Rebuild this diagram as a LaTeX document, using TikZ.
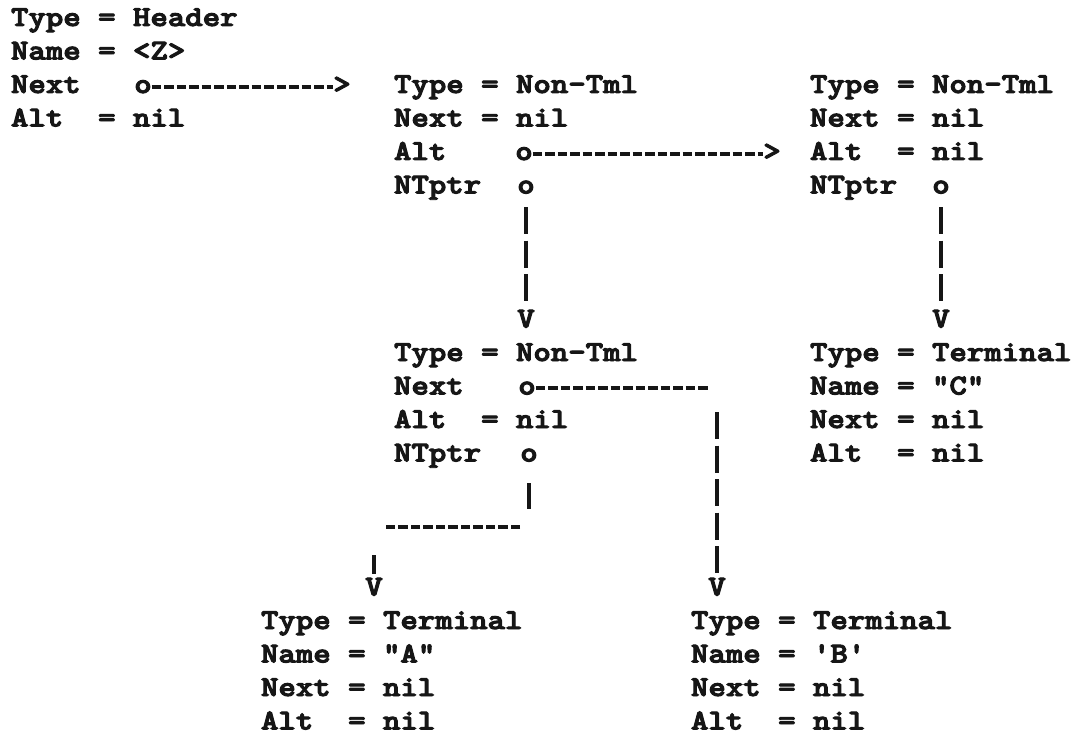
\documentclass[tikz,border=0pt]{standalone}
\usepackage{graphicx}
\definecolor{ink}{RGB}{22,22,22}
% typed text: slightly flattened and inked heavier, like a typewriter face
\newcommand\typw[1]{\scalebox{1}[0.87]{\special{pdf:literal direct 2 Tr 1.1 w}#1\special{pdf:literal direct 0 Tr 0.4 w}}}
\begin{document}
\begin{tikzpicture}[x=1pt, y=-1pt,
  every node/.style={inner sep=0pt, outer sep=0pt, text=ink,
    font=\ttfamily\bfseries\fontsize{33.2}{33.2}\selectfont},
  field/.style={anchor=base west},
  glyph/.style={anchor=base},
  hdash/.style={draw=ink, line width=3.8pt, dash pattern=on 9.5pt off 3pt},
  vdash/.style={draw=ink, line width=4.2pt, dash pattern=on 27pt off 6.5pt},
  vbar/.style={draw=ink, line width=4.2pt}]
\useasboundingbox (0,0) rectangle (1076,738);

% header record
\node[field] (hType) at (11,26)   {\typw{Type = Header}};
\node[field] (hName) at (11,59.5) {\typw{Name = <Z>}};
\node[field] (hNext) at (11,93)   {\typw{Next}};
\node[field] (hAlt)  at (11,126.5){\typw{Alt~~= nil}};
\node[glyph] (hNextP) at (143,93) {\typw{o}};
\node[glyph] (hNextA) at (342,93) {\typw{>}};
\draw[hdash] (hNextP.east) -- (hNextP.east -| hNextA.west);

% first non-terminal
\node[field] (n1Type) at (394,93)    {\typw{Type = Non-Tml}};
\node[field] (n1Next) at (394,126.5) {\typw{Next = nil}};
\node[field] (n1Alt)  at (394,160)   {\typw{Alt}};
\node[field] (n1NT)   at (394,193.5) {\typw{NTptr}};
\node[glyph] (n1AltP) at (524,160)   {\typw{o}};
\node[glyph] (n1NTP)  at (526,193.5) {\typw{o}};
\node[glyph] (n1AltA) at (772,160)   {\typw{>}};
\node[glyph] (n1Down) at (526,327.5) {\typw{V}};
\draw[hdash] (n1AltP.east) -- (n1AltP.east -| n1AltA.west);
\draw[vdash, shorten <=13.5pt, shorten >=4pt] (n1NTP.south) -- (n1Down.north);

% alternative non-terminal
\node[field] (n2Type) at (810,93)    {\typw{Type = Non-Tml}};
\node[field] (n2Next) at (810,126.5) {\typw{Next = nil}};
\node[field] (n2Alt)  at (810,160)   {\typw{Alt~~= nil}};
\node[field] (n2NT)   at (810,193.5) {\typw{NTptr}};
\node[glyph] (n2NTP)  at (941,193.5) {\typw{o}};
\node[glyph] (n2Down) at (941,327.5) {\typw{V}};
\draw[vdash, shorten <=13.5pt, shorten >=4pt] (n2NTP.south) -- (n2Down.north);

% nested non-terminal
\node[field] (n3Type) at (394,361)   {\typw{Type = Non-Tml}};
\node[field] (n3Next) at (394,394.5) {\typw{Next}};
\node[field] (n3Alt)  at (394,428)   {\typw{Alt~~= nil}};
\node[field] (n3NT)   at (394,461.5) {\typw{NTptr}};
\node[glyph] (n3NextP) at (527,394.5) {\typw{o}};
\node[glyph] (n3NTP)   at (529,461.5) {\typw{o}};

% terminal "C"
\node[field] (tCType) at (810,361)   {\typw{Type = Terminal}};
\node[field] (tCName) at (810,394.5) {\typw{Name = "C"}};
\node[field] (tCNext) at (810,428)   {\typw{Next = nil}};
\node[field] (tCAlt)  at (810,461.5) {\typw{Alt~~= nil}};

% terminal "A"
\node[glyph] (tADown) at (374,595.5) {\typw{V}};
\node[field] (tAType) at (261,629)   {\typw{Type = Terminal}};
\node[field] (tAName) at (261,662.5) {\typw{Name = "A"}};
\node[field] (tANext) at (261,696)   {\typw{Next = nil}};
\node[field] (tAAlt)  at (261,729.5) {\typw{Alt~~= nil}};

% terminal 'B'
\node[glyph] (tBDown) at (717,595.5) {\typw{V}};
\node[field] (tBType) at (691,629)   {\typw{Type = Terminal}};
\node[field] (tBName) at (691,662.5) {\typw{Name = 'B'}};
\node[field] (tBNext) at (691,696)   {\typw{Next = nil}};
\node[field] (tBAlt)  at (691,729.5) {\typw{Alt~~= nil}};

% links out of the nested non-terminal
\coordinate (n3NextEnd) at (708,0);
\coordinate (n3Drop)    at (717,412);
\coordinate (n3JoinR)   at (520,527);
\coordinate (n3JoinL)   at (383,527);
\draw[hdash] (n3NextP.east) -- (n3NextP.east -| n3NextEnd);
\draw[vdash, shorten >=4pt] (n3Drop) -- (tBDown.north);
\draw[vbar, shorten <=21.5pt, shorten >=18pt] (n3NTP.south) -- (n3NTP.south |- n3JoinR);
\draw[hdash] (n3JoinR) -- (n3JoinL);
\draw[vbar, shorten <=28pt, shorten >=4pt] (n3JoinL -| tADown) -- (tADown.north);
\end{tikzpicture}
\end{document}
